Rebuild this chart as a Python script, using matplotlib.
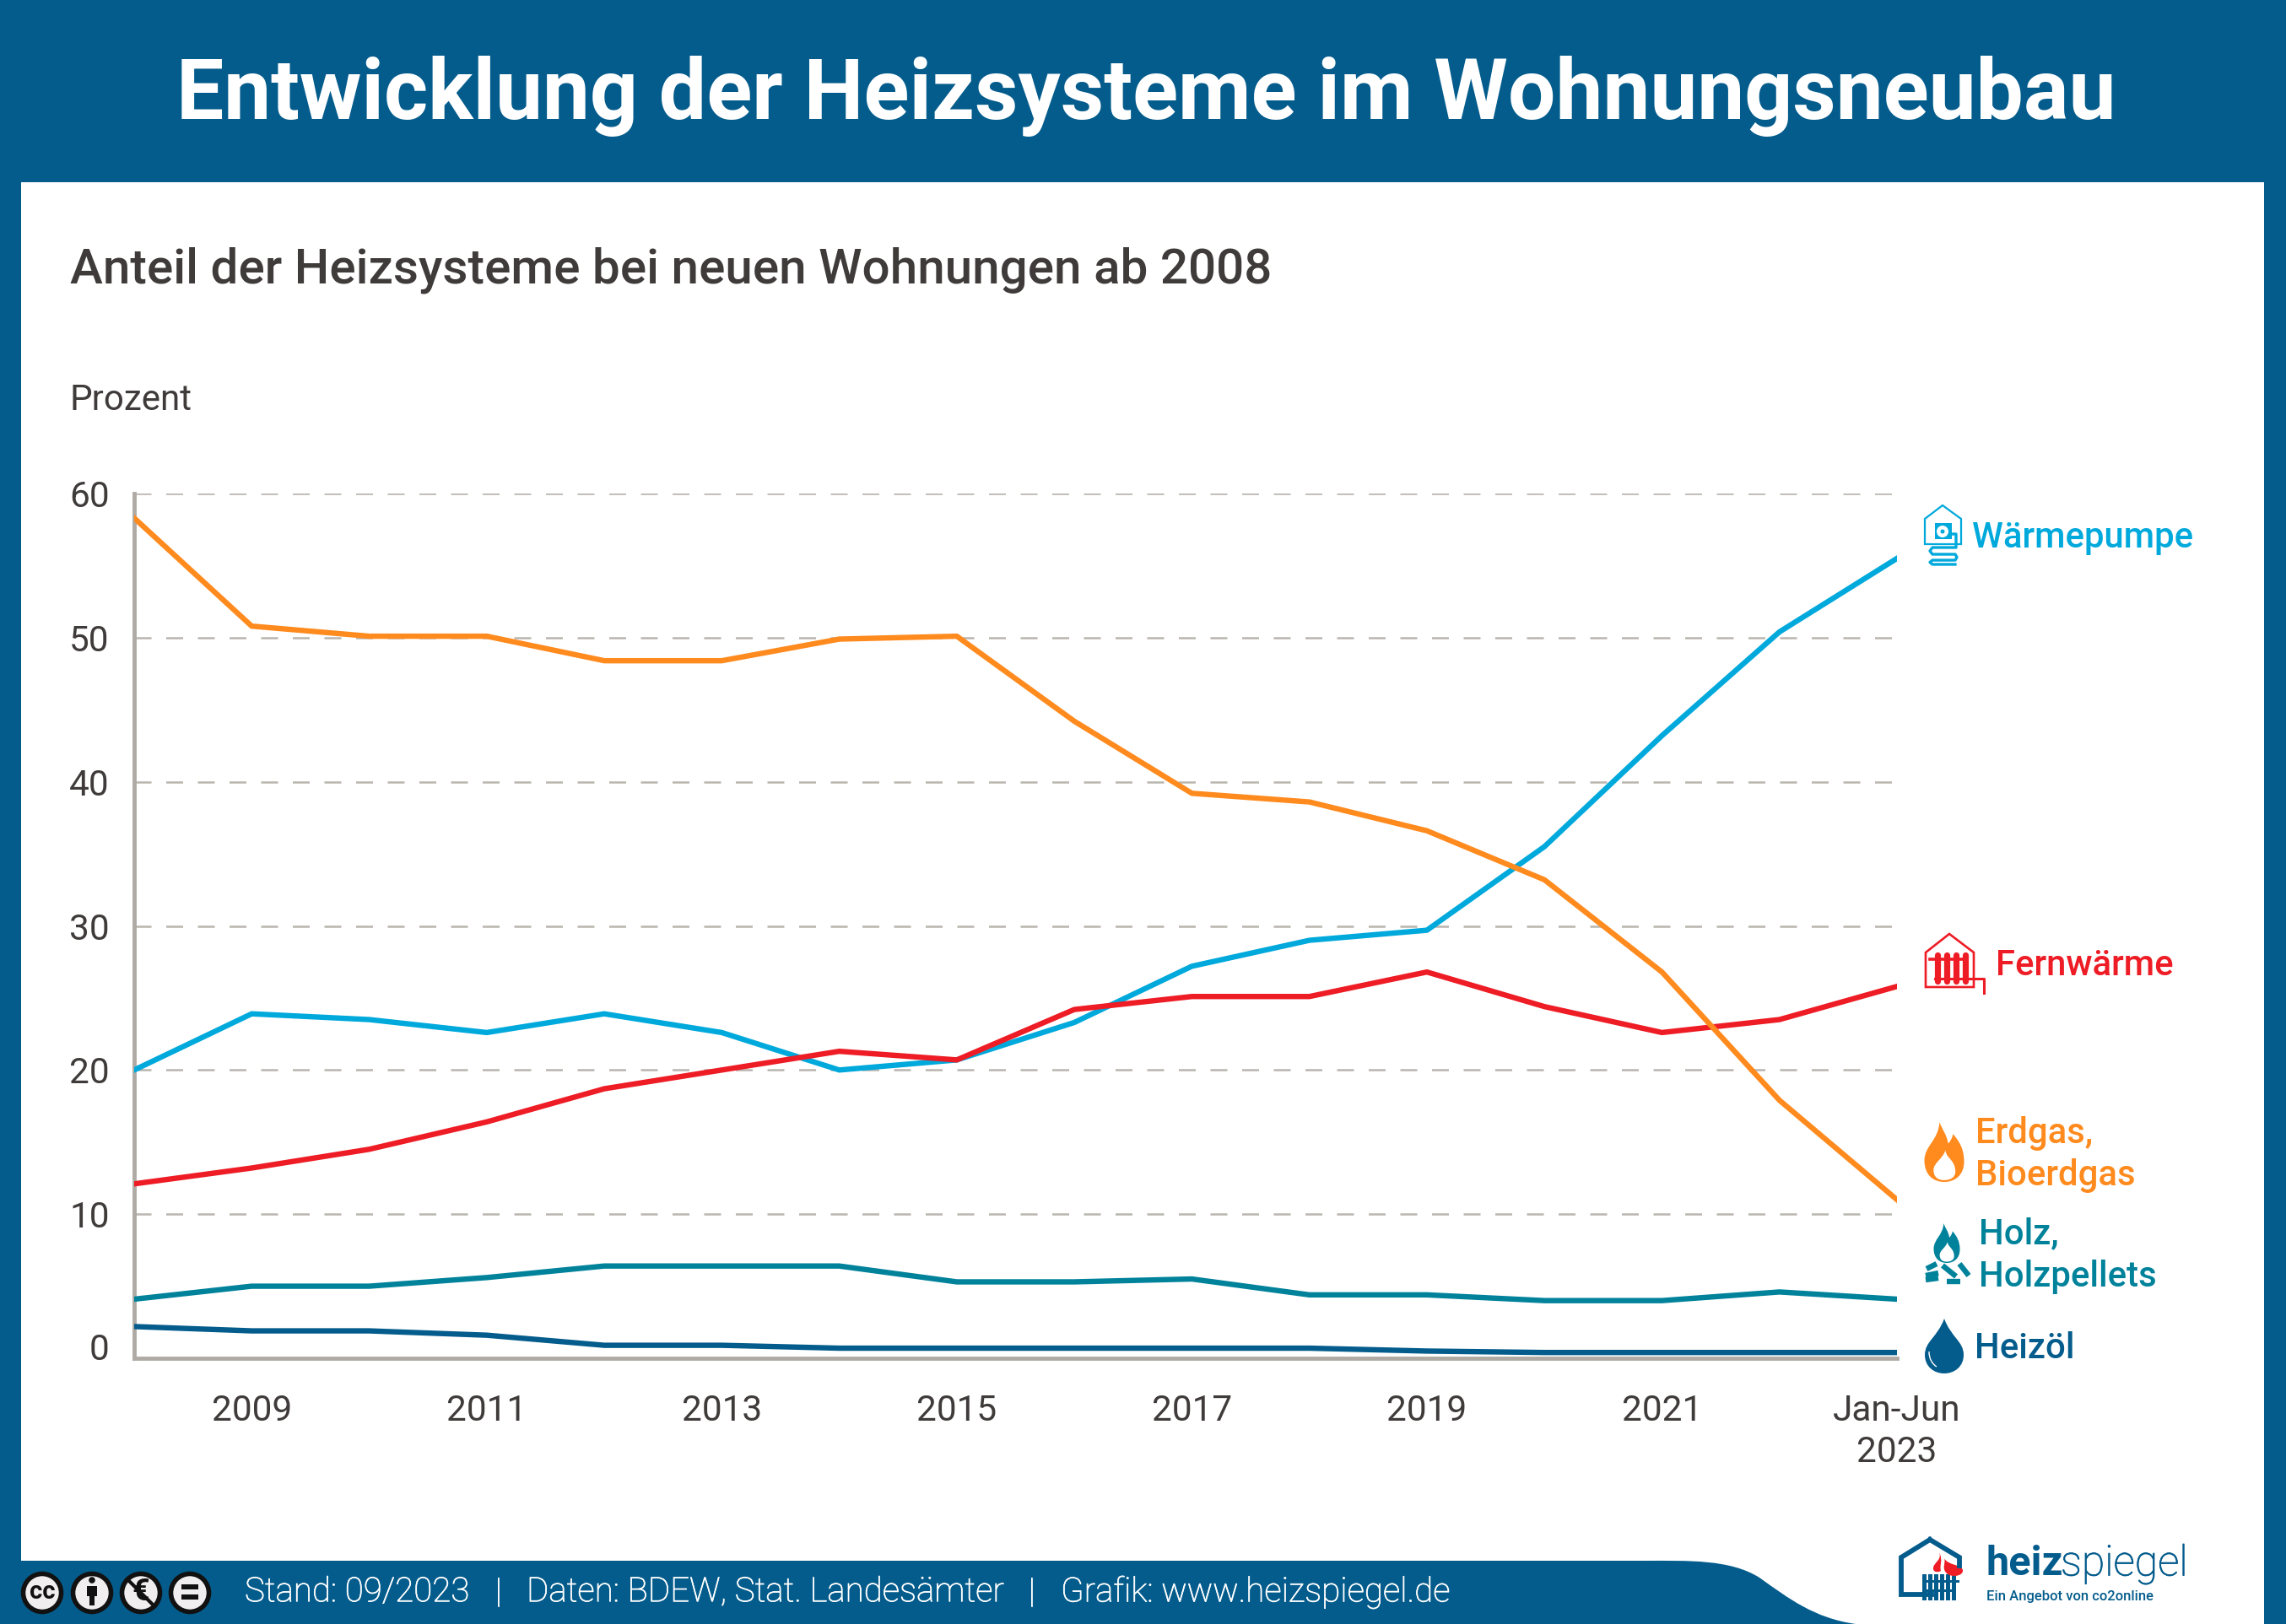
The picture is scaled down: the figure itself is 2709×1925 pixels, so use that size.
# Entwicklung der Heizsysteme im Wohnungsneubau
import numpy as np
import matplotlib
matplotlib.use('Agg')
import matplotlib.pyplot as plt
import matplotlib.patheffects as pe
from matplotlib.path import Path
from matplotlib.patches import PathPatch, Rectangle, Circle, Polygon
from matplotlib.transforms import ScaledTranslation

plt.rcParams['font.family'] = ['Roboto', 'DejaVu Sans']

# Data
years = list(range(2008, 2024))
gas = [58.3, 50.8, 50.1, 50.1, 48.4, 48.4, 49.9, 50.1, 44.2, 39.2, 38.6, 36.6, 33.2, 26.8, 17.9, 11.0]
heatpump = [20.0, 23.9, 23.5, 22.6, 23.9, 22.6, 20.0, 20.7, 23.3, 27.2, 29.0, 29.7, 35.5, 43.2, 50.4, 55.5]
district = [12.1, 13.2, 14.5, 16.4, 18.7, 20.0, 21.3, 20.7, 24.2, 25.1, 25.1, 26.8, 24.4, 22.6, 23.5, 25.8]
wood = [4.1, 5.0, 5.0, 5.6, 6.4, 6.4, 6.4, 5.3, 5.3, 5.5, 4.4, 4.4, 4.0, 4.0, 4.6, 4.1]
oil = [2.2, 1.9, 1.9, 1.6, 0.9, 0.9, 0.7, 0.7, 0.7, 0.7, 0.7, 0.5, 0.4, 0.4, 0.4, 0.4]
x_ticks = [2009, 2011, 2013, 2015, 2017, 2019, 2021, 2023]
x_labels = ['2009', '2011', '2013', '2015', '2017', '2019', '2021', 'Jan-Jun\n2023']
y_ticks = [0, 10, 20, 30, 40, 50, 60]

# Colors
BLUE = '#045C8C'
CYAN = '#00A9DC'
ORANGE = '#FF8A1E'
RED = '#EE1C25'
TEAL = '#00829B'
TEXT = '#3F3B3A'
GREY = '#AFABA4'
GRID = '#B9B5AF'
INK = '#111111'

W, H = 2709, 1925
fig = plt.figure(figsize=(W / 100, H / 100), dpi=100, facecolor=BLUE)

# Full size axes in pixel coordinates for panel, texts and icons
bg = fig.add_axes([0, 0, 1, 1])
bg.set_xlim(0, W)
bg.set_ylim(H, 0)
bg.axis('off')


def poly(pts, **kw):
    bg.add_patch(Polygon(pts, closed=True, **kw))


def curve(verts, codes, **kw):
    bg.add_patch(PathPatch(Path(verts, codes), **kw))


M, L, C4, Z = Path.MOVETO, Path.LINETO, Path.CURVE4, Path.CLOSEPOLY

# White panel with the wave on the lower right
curve([(25, 216), (2683, 216), (2683, 1925), (2199, 1925),
       (2150, 1918), (2120, 1895), (2085, 1870),
       (2050, 1848), (2000, 1850), (1950, 1850),
       (25, 1850), (25, 216)],
      [M, L, L, L, C4, C4, C4, C4, C4, C4, L, Z], fc='white', ec='none')

# Header
bg.text(1358, 114, 'Entwicklung der Heizsysteme im Wohnungsneubau', color='white',
        fontsize=72, fontweight='bold', ha='center', va='center')
bg.text(83, 320, 'Anteil der Heizsysteme bei neuen Wohnungen ab 2008', color=TEXT,
        fontsize=42, fontweight='medium', ha='left', va='center')
bg.text(83, 475, 'Prozent', color=TEXT, fontsize=30.3, ha='left', va='center')

# Chart
ax = fig.add_axes([159 / W, 1 - 1610 / H, (2248 - 159) / W, (1610 - 585) / H])
ax.patch.set_alpha(0)
ax.set_xlim(2008, 2023)
ax.set_ylim(0, 60)
for y in y_ticks[1:]:
    ax.axhline(y, color=GRID, lw=1.8, dashes=(8, 7), zorder=1)
ax.plot(years, oil, color=BLUE, lw=4.6, zorder=3)
ax.plot(years, wood, color=TEAL, lw=4.6, zorder=3)
ax.plot(years, heatpump, color=CYAN, lw=4.6, zorder=3)
ax.plot(years, district, color=RED, lw=4.6, zorder=3)
ax.plot(years, gas, color=ORANGE, lw=4.6, zorder=3)
for s in ['top', 'right']:
    ax.spines[s].set_visible(False)
for s in ['left', 'bottom']:
    ax.spines[s].set_color(GREY)
    ax.spines[s].set_linewidth(3.5)
ax.set_xticks(x_ticks)
ax.set_xticklabels(x_labels, linespacing=1.25)
ax.set_yticks(y_ticks)
ax.tick_params(length=0, labelsize=30.5, labelcolor=TEXT)
ax.tick_params(axis='x', pad=30)
ax.tick_params(axis='y', pad=21)
# the 0 label sits a bit above the baseline
lab = ax.get_yticklabels()[0]
lab.set_transform(lab.get_transform() + ScaledTranslation(0, 14 / 100, fig.dpi_scale_trans))

# Series labels
for txt, x, y, col in [('Wärmepumpe', 2337, 637, CYAN), ('Fernwärme', 2365, 1145, RED),
                       ('Erdgas,', 2341, 1343, ORANGE), ('Bioerdgas', 2341, 1393, ORANGE),
                       ('Holz,', 2345, 1463, TEAL), ('Holzpellets', 2345, 1513, TEAL),
                       ('Heizöl', 2340, 1598, BLUE)]:
    bg.text(x, y, txt, color=col, fontsize=30.2, fontweight='medium', ha='left', va='center')


def flame(cx, base, w, h, color, inner='white'):
    # flame outline given in a unit box, then scaled to w x h
    o = [(0.38, 0), (0.44, 0.12), (0.56, 0.2), (0.60, 0.36), (0.65, 0.32), (0.70, 0.28), (0.72, 0.2),
         (0.88, 0.32), (1.0, 0.45), (1.0, 0.66), (1.0, 0.88), (0.78, 1), (0.5, 1),
         (0.22, 1), (0, 0.88), (0, 0.64), (0, 0.4), (0.36, 0.3), (0.38, 0)]
    v = [(cx - w / 2 + a * w, base - h + b * h) for a, b in o]
    curve(v, [M] + [C4] * 18, fc=color, ec='none')
    i = [(0.53, 0.47), (0.55, 0.57), (0.64, 0.6), (0.69, 0.65), (0.75, 0.7), (0.78, 0.76), (0.78, 0.83),
         (0.78, 0.93), (0.64, 0.97), (0.5, 0.97), (0.36, 0.97), (0.23, 0.93), (0.23, 0.8),
         (0.23, 0.68), (0.46, 0.62), (0.53, 0.47)]
    v = [(cx - w / 2 + a * w, base - h + b * h) for a, b in i]
    curve(v, [M] + [C4] * 15, fc=inner, ec='none')


# Waermepumpe icon
poly([(2281, 615), (2302, 599), (2324, 615), (2324, 645), (2281, 645)], fc='none', ec=CYAN, lw=1.6)
bg.add_patch(Rectangle((2293, 620), 20, 19, fc=CYAN, ec='none'))
bg.add_patch(Circle((2302, 630), 7, fc='white', ec='none'))
bg.add_patch(Circle((2302, 630), 2.5, fc=CYAN, ec='none'))
bg.plot([2313, 2318, 2318, 2290, 2287, 2290, 2317, 2319, 2317, 2290, 2287, 2290, 2317],
        [633, 633, 649, 649, 653, 657, 657, 660.5, 664, 664, 666.5, 669, 669], color=CYAN, lw=2.4)

# Fernwaerme icon
poly([(2282, 1129), (2310, 1107), (2339, 1129), (2339, 1170), (2282, 1170)], fc='none', ec=RED, lw=1.9)
for xb in [2295.5, 2306.5, 2317.5, 2328.5]:
    bg.plot([xb, xb], [1132, 1163], color=RED, lw=5.2, solid_capstyle='round')
bg.plot([2287, 2331], [1137, 1137], color=RED, lw=2.6)
bg.plot([2293, 2351, 2351], [1160, 1160, 1177], color=RED, lw=2.2)

# Gas flame
flame(2304, 1401, 47, 71, ORANGE)

# Wood flame and logs
flame(2307, 1497, 31, 47, TEAL)
for (x0, y0, x1, y1) in [(2283, 1504, 2295, 1498), (2282, 1512, 2297, 1509), (2282, 1517, 2297, 1515),
                         (2302, 1500, 2318, 1513), (2322, 1498, 2333, 1512), (2307, 1519, 2323, 1519)]:
    bg.plot([x0, x1], [y0, y1], color=TEAL, lw=4.6, solid_capstyle='butt')

# Oil drop
curve([(2304, 1563), (2296, 1585), (2281, 1590), (2281, 1606),
       (2281, 1620), (2292, 1628), (2304, 1628),
       (2316, 1628), (2327, 1620), (2327, 1606),
       (2327, 1590), (2312, 1585), (2304, 1563), (2304, 1563)],
      [M, C4, C4, C4, C4, C4, C4, C4, C4, C4, C4, C4, C4, Z], fc=BLUE, ec='none')
curve([(2286, 1602), (2286, 1611), (2290, 1617), (2295, 1620)], [M, C4, C4, C4], fc='none', ec='white', lw=1)

# Footer
for xc in [50, 109, 167, 225]:
    bg.add_patch(Circle((xc, 1888), 22.5, fc='#F0EEEE', ec=INK, lw=4))
bg.text(50, 1887, 'cc', color=INK, fontsize=21, fontweight='bold', ha='center', va='center')
bg.add_patch(Circle((109, 1873), 3.8, fc=INK, ec='none'))
bg.add_patch(Rectangle((103, 1880), 12, 12, fc=INK, ec='none'))
bg.add_patch(Rectangle((106, 1892), 6, 11, fc=INK, ec='none'))
bg.text(167, 1887, '€', color=INK, fontsize=26, fontweight='bold', ha='center', va='center')
bg.plot([151, 183], [1872, 1904], color=INK, lw=3)
bg.add_patch(Rectangle((215, 1878), 20, 6, fc=INK, ec='none'))
bg.add_patch(Rectangle((215, 1890), 20, 6, fc=INK, ec='none'))
stroke = [pe.withStroke(linewidth=0.5, foreground='white')]
for txt, x, ha in [('Stand: 09/2023', 290, 'left'), ('|', 590, 'center'),
                   ('Daten: BDEW, Stat. Landesämter', 624, 'left'), ('|', 1222, 'center'),
                   ('Grafik: www.heizspiegel.de', 1257, 'left')]:
    bg.text(x, 1887, txt, color='white', fontsize=29, fontweight='light', ha=ha, va='center', path_effects=stroke)

# Logo
bg.plot([2289, 2253, 2253, 2287], [1890, 1890, 1846, 1825], color=BLUE, lw=4.2, solid_joinstyle='miter')
bg.plot([2287, 2322, 2322], [1825, 1846, 1856], color=BLUE, lw=4.2, solid_joinstyle='miter')
for xb in range(2278, 2316, 7):
    bg.add_patch(Rectangle((xb, 1866), 4.6, 31, fc=BLUE, ec='none'))
bg.add_patch(Rectangle((2278, 1873), 44, 3, fc=BLUE, ec='none'))
bg.add_patch(Rectangle((2278, 1884), 38, 3, fc=BLUE, ec='none'))
curve([(2298, 1840), (2302, 1850), (2290, 1852), (2291, 1860), (2292, 1864), (2297, 1864), (2300, 1862), (2298, 1855), (2303, 1850), (2298, 1840)],
      [M, C4, C4, C4, C4, C4, C4, C4, C4, C4], fc=RED, ec='none')
curve([(2304, 1847), (2308, 1856), (2326, 1854), (2326, 1862), (2326, 1868), (2312, 1871), (2306, 1864), (2301, 1858), (2306, 1853), (2304, 1847)],
      [M, C4, C4, C4, C4, C4, C4, C4, C4, C4], fc=RED, ec='none')
bg.text(2353, 1854, 'heiz', color=BLUE, fontsize=35, fontweight='bold', ha='left', va='center')
bg.text(2442, 1854, 'spiegel', color=BLUE, fontsize=36, fontweight='light', ha='left', va='center',
        path_effects=[pe.withStroke(linewidth=0.6, foreground=BLUE)])
bg.text(2354, 1892, 'Ein Angebot von co2online', color=BLUE, fontsize=12, fontweight='medium', ha='left', va='center')

fig.savefig('out.png', dpi=100, facecolor=BLUE)
